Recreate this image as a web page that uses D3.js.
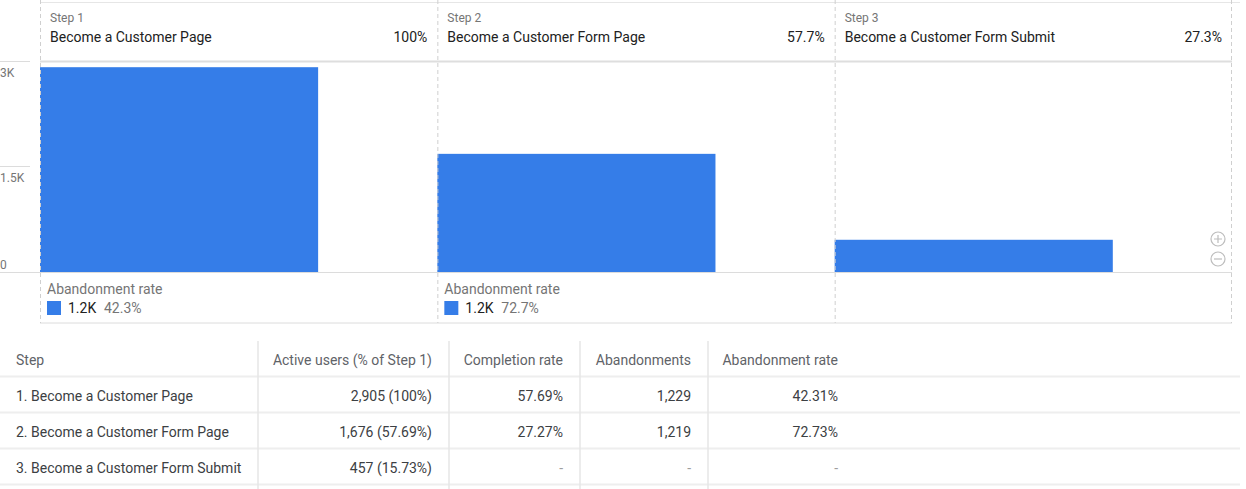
<!DOCTYPE html>
<html>
<head>
<meta charset="utf-8">
<script src="https://cdn.jsdelivr.net/npm/d3@7"></script>
<style>
    body { margin: 0; background: #fff; }
    svg { display: block; font-family: Roboto, 'Noto Sans', sans-serif; }
</style>
</head>
<body>
<svg id="chart" width="1246" height="489"></svg>
<script>
const stepNames = ['Become a Customer Page', 'Become a Customer Form Page', 'Become a Customer Form Submit']
const stepLabels = ['Step 1', 'Step 2', 'Step 3']
const headerPct = ['100%', '57.7%', '27.3%']
const activeUsers = [2905, 1676, 457]
const pctOfStep1 = [100, 57.69, 15.73]
const completionRate = [57.69, 27.27, null]
const abandonments = [1229, 1219, null]
const abandonmentRate = [42.31, 72.73, null]
const yTicks = [0, 1500, 3000]
const tableHeaders = ['Step', 'Active users (% of Step 1)', 'Completion rate', 'Abandonments', 'Abandonment rate']

const svg = d3.select('#chart')
const blue = '#357de8'
const chartLeft = 40
const chartRight = 1232
const headerBottom = 61.5
const baseY = 272
const footerBottom = 323

const x = d3.scaleBand()
    .domain(d3.range(stepNames.length))
    .range([chartLeft, chartRight])
const y = d3.scaleLinear()
    .domain([0, 3000])
    .range([baseY, 60.5])

// frame lines
svg.append('line')
    .attr('x1', chartLeft).attr('x2', 1240)
    .attr('y1', 2.5).attr('y2', 2.5)
    .attr('stroke', '#e6e6e6')
svg.append('line')
    .attr('x1', chartLeft).attr('x2', chartRight)
    .attr('y1', headerBottom).attr('y2', headerBottom)
    .attr('stroke', '#dedede').attr('stroke-width', 2)
svg.append('line')
    .attr('x1', 0).attr('x2', chartRight)
    .attr('y1', baseY + 0.5).attr('y2', baseY + 0.5)
    .attr('stroke', '#dcdcdc')
svg.append('line')
    .attr('x1', chartLeft).attr('x2', chartRight)
    .attr('y1', footerBottom).attr('y2', footerBottom)
    .attr('stroke', '#dcdcdc')

// y axis: short ticks on the left
const gAxis = svg.append('g').attr('class', 'y-axis')
gAxis.selectAll('line')
    .data(yTicks.filter(d => d > 0))
    .enter().append('line')
    .attr('x1', 0).attr('x2', 30)
    .attr('y1', d => Math.round(y(d)) + 0.5)
    .attr('y2', d => Math.round(y(d)) + 0.5)
    .attr('stroke', '#dcdcdc')
gAxis.selectAll('text')
    .data(yTicks)
    .enter().append('text')
    .attr('x', 0)
    .attr('y', d => d === 0 ? y(d) - 3 : y(d) + 16)
    .attr('font-size', 12)
    .attr('fill', '#757575')
    .text(d => d === 0 ? '0' : d3.format('~')(d / 1000) + 'K')

// step columns
const gStep = svg.append('g').attr('class', 'g-container-step')
    .selectAll('g.g-wrap-step')
    .data(stepNames)
    .enter().append('g')
    .attr('class', 'g-wrap-step')

gStep.append('rect')
    .attr('x', (d, i) => x(i))
    .attr('width', x.bandwidth() * 0.7)
    .attr('y', (d, i) => y(activeUsers[i]))
    .attr('height', (d, i) => baseY - y(activeUsers[i]))
    .attr('fill', blue)

gStep.append('text')
    .attr('x', (d, i) => x(i) + 10)
    .attr('y', 22)
    .attr('font-size', 12)
    .attr('fill', '#757575')
    .text((d, i) => stepLabels[i])
gStep.append('text')
    .attr('x', (d, i) => x(i) + 10)
    .attr('y', 42)
    .attr('font-size', 14)
    .attr('fill', '#212121')
    .text(d => d)
gStep.append('text')
    .attr('x', (d, i) => x(i) + x.bandwidth() - 10)
    .attr('y', 42)
    .attr('text-anchor', 'end')
    .attr('font-size', 14)
    .attr('fill', '#212121')
    .text((d, i) => headerPct[i])

// abandonment footer
const gAband = gStep.filter((d, i) => abandonments[i] != null)
gAband.append('text')
    .attr('x', (d, i) => x(i) + 7)
    .attr('y', 294)
    .attr('font-size', 14)
    .attr('fill', '#757575')
    .text('Abandonment rate')
gAband.append('rect')
    .attr('x', (d, i) => x(i) + 7)
    .attr('y', 301)
    .attr('width', 14).attr('height', 14)
    .attr('fill', blue)
gAband.append('text')
    .attr('x', (d, i) => x(i) + 28)
    .attr('y', 313)
    .attr('font-size', 14)
    .attr('fill', '#212121')
    .text((d, i) => (abandonments[i] / 1000).toFixed(1) + 'K')
gAband.append('text')
    .attr('x', (d, i) => x(i) + 64)
    .attr('y', 313)
    .attr('font-size', 14)
    .attr('fill', '#757575')
    .text((d, i) => abandonmentRate[i].toFixed(1) + '%')

// dashed column separators
svg.append('g')
    .selectAll('line')
    .data(d3.range(stepNames.length + 1))
    .enter().append('line')
    .attr('x1', i => i < stepNames.length ? x(i) + 0.5 : chartRight - 0.5)
    .attr('x2', i => i < stepNames.length ? x(i) + 0.5 : chartRight - 0.5)
    .attr('y1', 0).attr('y2', footerBottom)
    .attr('stroke', '#cfcfcf')
    .attr('stroke-dasharray', '4,3')

// zoom buttons
const gZoom = svg.append('g').attr('stroke', '#bdbdbd').attr('fill', 'none').attr('stroke-width', 1.2)
gZoom.append('circle').attr('cx', 1218).attr('cy', 239).attr('r', 7)
gZoom.append('path').attr('d', 'M1214,239H1222M1218,235V243')
gZoom.append('circle').attr('cx', 1218).attr('cy', 259).attr('r', 7)
gZoom.append('path').attr('d', 'M1214,259H1222')

// table
const colEdges = [0, 258, 449, 580, 708, 855]
const rowTop = 341
const rowH = 36
const fmtInt = d3.format(',')
const tableRows = stepNames.map((d, i) => [
    (i + 1) + '. ' + d,
    fmtInt(activeUsers[i]) + ' (' + d3.format('~')(pctOfStep1[i]) + '%)',
    completionRate[i] == null ? '-' : completionRate[i].toFixed(2) + '%',
    abandonments[i] == null ? '-' : fmtInt(abandonments[i]),
    abandonmentRate[i] == null ? '-' : abandonmentRate[i].toFixed(2) + '%'
])

const gTable = svg.append('g').attr('class', 'g-table').attr('font-size', 14)

gTable.selectAll('line.row-line')
    .data(d3.range(tableRows.length + 1))
    .enter().append('line')
    .attr('class', 'row-line')
    .attr('x1', 0).attr('x2', 1240)
    .attr('y1', i => rowTop + rowH * (i + 1) - 0.5)
    .attr('y2', i => rowTop + rowH * (i + 1) - 0.5)
    .attr('stroke', '#eeeeee').attr('stroke-width', 2)

gTable.selectAll('line.col-line')
    .data(colEdges.slice(1, 5))
    .enter().append('line')
    .attr('class', 'col-line')
    .attr('x1', d => d).attr('x2', d => d)
    .attr('y1', rowTop).attr('y2', 489)
    .attr('stroke', '#e6e6e6').attr('stroke-width', 1.5)

function cellX (c) {
    return c === 0 ? 16 : colEdges[c + 1] - 17
}

gTable.selectAll('text.th')
    .data(tableHeaders)
    .enter().append('text')
    .attr('class', 'th')
    .attr('x', (d, c) => cellX(c))
    .attr('y', rowTop + 24)
    .attr('text-anchor', (d, c) => c === 0 ? 'start' : 'end')
    .attr('fill', '#5f6368')
    .text(d => d)

gTable.selectAll('g.tr')
    .data(tableRows)
    .enter().append('g')
    .attr('class', 'tr')
    .attr('transform', (d, i) => `translate(0, ${rowTop + rowH * (i + 1)})`)
    .selectAll('text')
    .data(d => d)
    .enter().append('text')
    .attr('x', (d, c) => cellX(c))
    .attr('y', 24)
    .attr('text-anchor', (d, c) => c === 0 ? 'start' : 'end')
    .attr('fill', d => d === '-' ? '#9e9e9e' : '#3c4043')
    .text(d => d)
</script>
</body>
</html>
